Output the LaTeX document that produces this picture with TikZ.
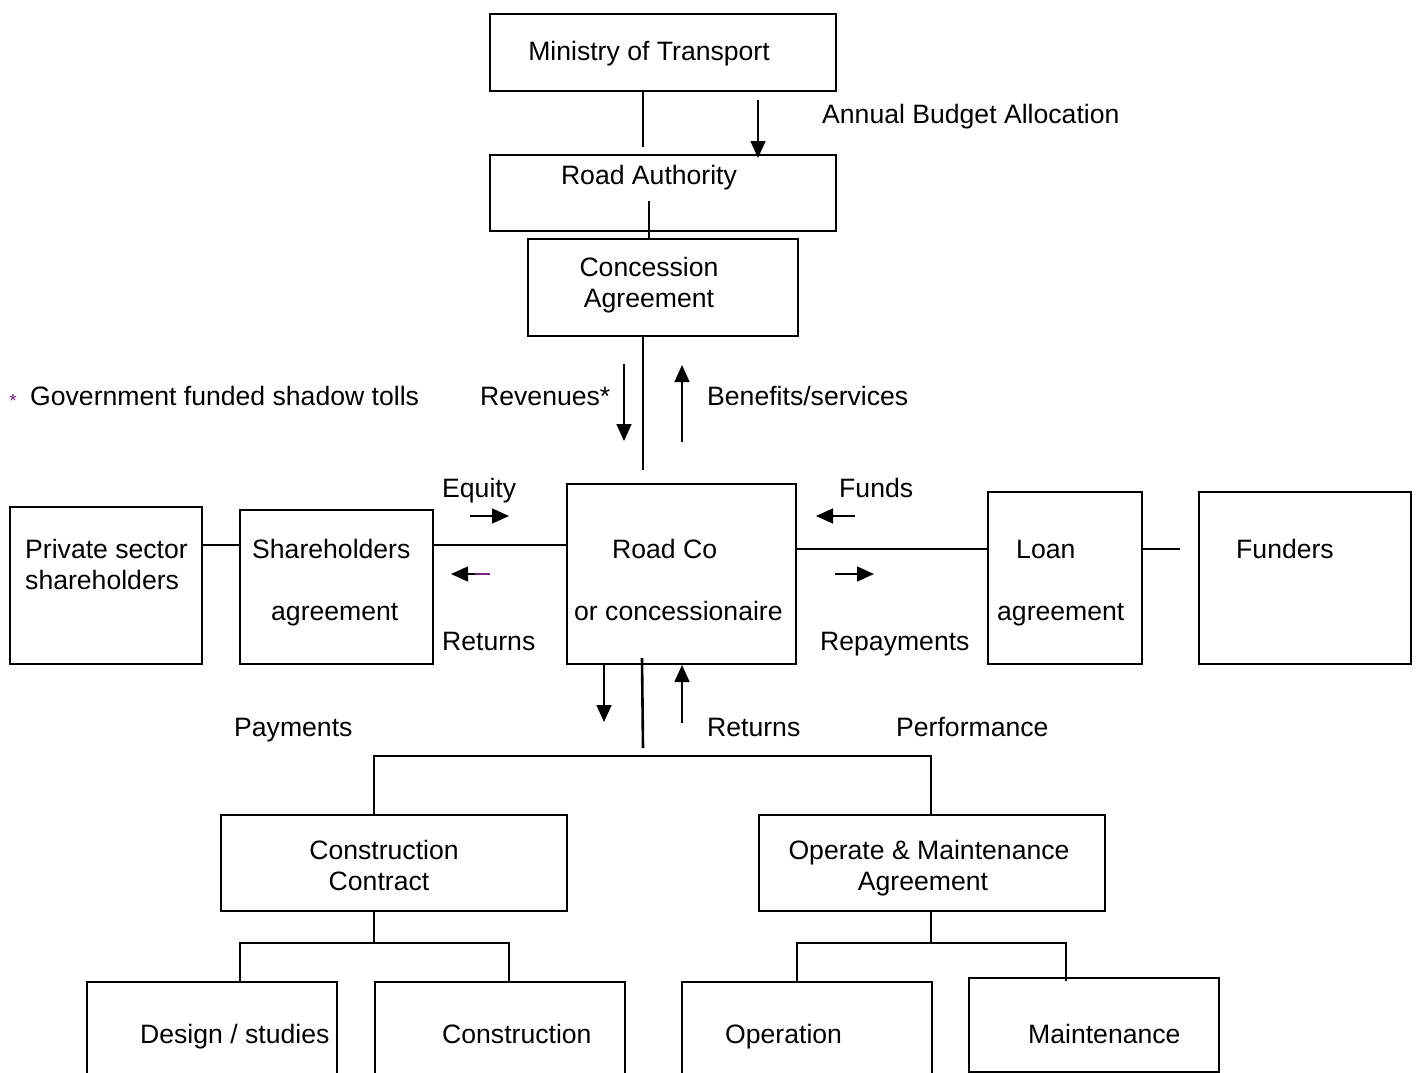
\documentclass[tikz,border=0pt]{standalone}
\usepackage{fontspec}
\setmainfont{Liberation Sans}
\usetikzlibrary{arrows.meta}
\definecolor{purp}{RGB}{128,32,140}
\begin{document}
\begin{tikzpicture}[x=1pt,y=-1pt,
 box/.style={draw, line width=1.6pt, inner sep=0pt, anchor=north west},
 txt/.style={font=\fontsize{26.6}{30}\selectfont, inner sep=0pt},
 ln/.style={line width=2pt},
 tree/.style={line width=2.6pt},
 arr/.style={line width=1.5pt, -{Triangle[length=17pt,width=15pt]}}]
\useasboundingbox (0,0) rectangle (1417,1073);
\clip (0,0) rectangle (1417,1073);
% boxes
\node[box, minimum width=346pt, minimum height=77pt] (ministry) at (489,13) {};
\node[box, minimum width=346pt, minimum height=76pt] (authority) at (489,154) {};
\node[box, minimum width=270pt, minimum height=97pt] (concession) at (527,238) {};
\node[box, minimum width=229pt, minimum height=180pt] (roadco) at (566,483) {};
\node[box, minimum width=193pt, minimum height=154pt] (share) at (239,509) {};
\node[box, minimum width=192pt, minimum height=157pt] (private) at (9,506) {};
\node[box, minimum width=154pt, minimum height=172pt] (loan) at (987,491) {};
\node[box, minimum width=212pt, minimum height=172pt] (funders) at (1198,491) {};
\node[box, minimum width=346pt, minimum height=96pt] (cc) at (220,814) {};
\node[box, minimum width=346pt, minimum height=96pt] (om) at (758,814) {};
\node[box, minimum width=250pt, minimum height=130pt] (design) at (86,981) {};
\node[box, minimum width=250pt, minimum height=130pt] (constr) at (374,981) {};
\node[box, minimum width=250pt, minimum height=130pt] (oper) at (681,981) {};
\node[box, minimum width=250pt, minimum height=94pt] (maint) at (968,977) {};
% texts
\node[txt, anchor=base] (tmin) at (649,61) {Ministry of Transport};
\node[txt, anchor=base west] (tabl) at (822,123) {Annual Budget Allocation};
\node[txt, anchor=base] (tra) at (649,184) {Road Authority};
\node[txt, anchor=base] (tcon1) at (649,276) {Concession};
\node[txt, anchor=base] (tcon2) at (649,307) {Agreement};
\node[txt, anchor=base west] (trev) at (480,405) {Revenues*};
\node[txt, anchor=base west] (tben) at (707,405) {Benefits/services};
\node[txt, anchor=base west] (tgov) at (30,405) {Government funded shadow tolls};
\node[inner sep=0pt, text=purp, font=\fontsize{19}{19}\selectfont] (tast) at (13,401) {*};
\node[txt, anchor=base west] (teq) at (442,497) {Equity};
\node[txt, anchor=base west] (tfunds) at (839,497) {Funds};
\node[txt, anchor=base west] (tps1) at (25,558) {Private sector};
\node[txt, anchor=base west] (tps2) at (25,589) {shareholders};
\node[txt, anchor=base west] (tsa1) at (252,558) {Shareholders};
\node[txt, anchor=base west] (tsa2) at (271,620) {agreement};
\node[txt, anchor=base west] (trc1) at (612,558) {Road Co};
\node[txt, anchor=base west] (trc2) at (574,620) {or concessionaire};
\node[txt, anchor=base west] (tret1) at (442,650) {Returns};
\node[txt, anchor=base west] (trep) at (820,650) {Repayments};
\node[txt, anchor=base west] (tla1) at (1016,558) {Loan};
\node[txt, anchor=base west] (tla2) at (997,620) {agreement};
\node[txt, anchor=base west] (tfun) at (1236,558) {Funders};
\node[txt, anchor=base west] (tpay) at (234,736) {Payments};
\node[txt, anchor=base west] (tret2) at (707,736) {Returns};
\node[txt, anchor=base west] (tperf) at (896,736) {Performance};
\node[txt, anchor=base] (tcc1) at (384,859) {Construction};
\node[txt, anchor=base] (tcc2) at (379,890) {Contract};
\node[txt, anchor=base] (tom1) at (929,859) {Operate \& Maintenance};
\node[txt, anchor=base] (tom2) at (923,890) {Agreement};
\node[txt, anchor=base west] (tds) at (140,1043) {Design / studies};
\node[txt, anchor=base west] (tcs) at (442,1043) {Construction};
\node[txt, anchor=base west] (top) at (725,1043) {Operation};
\node[txt, anchor=base west] (tmt) at (1028,1043) {Maintenance};
% connectors
\coordinate (c1) at (643,147);
\draw[ln] (ministry.south -| c1) -- (c1);
\coordinate (c2) at (649,201);
\draw[ln] (c2) -- (concession.north -| c2);
\coordinate (c3) at (643,470);
\draw[ln] (concession.south -| c3) -- (c3);
\coordinate (c4) at (0,545);
\draw[ln] (private.east |- c4) -- (share.west |- c4);
\draw[ln] (share.east |- c4) -- (roadco.west |- c4);
\coordinate (c5) at (0,549);
\draw[ln] (roadco.east |- c5) -- (loan.west |- c5);
\coordinate (c6) at (1180,549);
\draw[ln] (loan.east |- c6) -- (c6);
% tree
\coordinate (r1) at (642,658);
\coordinate (r2) at (643,748);
\draw[tree] (r1) -- (r2);
\coordinate (h1) at (374,756);
\coordinate (h2) at (931,756);
\draw[tree] (cc.north -| h1) -- (h1) -- (h2) -- (om.north -| h2);
\coordinate (g1) at (374,943);
\coordinate (g2) at (240,943);
\coordinate (g3) at (509,943);
\draw[tree] (cc.south -| g1) -- (g1);
\draw[tree] (design.north -| g2) -- (g2) -- (g3) -- (constr.north -| g3);
\coordinate (k1) at (931,943);
\coordinate (k2) at (797,943);
\coordinate (k3) at (1066,943);
\draw[tree] (om.south -| k1) -- (k1);
\draw[tree] (oper.north -| k2) -- (k2) -- (k3) -- (1066,981);
% arrows
\draw[arr] (758,100) -- (758,158);
\draw[arr] (624,364) -- (624,441);
\draw[arr] (682,442) -- (682,365);
\draw[arr] (470,516) -- (509,516);
\draw[arr] (490,574) -- (451,574);
\draw[line width=1.5pt, purp] (475,574) -- (490,574);
\draw[arr] (855,516) -- (816,516);
\draw[arr] (835,574) -- (874,574);
\draw[arr] (604,664) -- (604,722);
\draw[arr] (682,723) -- (682,665);
\end{tikzpicture}
\end{document}
